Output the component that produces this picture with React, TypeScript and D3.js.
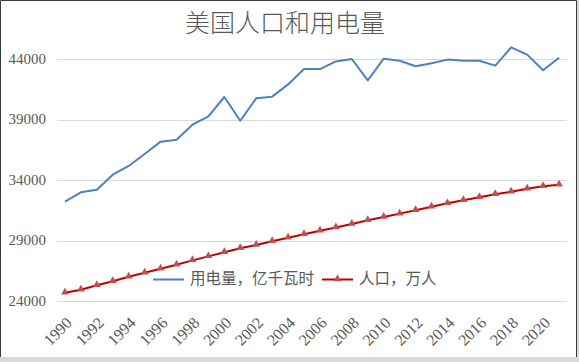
// Gráfica de líneas: población y consumo eléctrico de EE. UU.
import * as d3 from "d3";
import React, { useEffect, useRef } from "react";

// Datos
const years = [
  1990, 1991, 1992, 1993, 1994, 1995, 1996, 1997, 1998, 1999, 2000, 2001,
  2002, 2003, 2004, 2005, 2006, 2007, 2008, 2009, 2010, 2011, 2012, 2013,
  2014, 2015, 2016, 2017, 2018, 2019, 2020, 2021,
];

// 用电量，亿千瓦时
const electricity = [
  32210, 32980, 33200, 34440, 35160, 36150, 37170, 37330, 38570, 39260,
  40860, 38900, 40750, 40890, 41900, 43170, 43170, 43800, 44000, 42240,
  44030, 43860, 43400, 43650, 43950, 43860, 43860, 43450, 44960, 44360,
  43070, 44110,
];

// 人口，万人
const population = [
  24690, 24930, 25300, 25630, 26010, 26340, 26670, 27000, 27360, 27690,
  28030, 28360, 28630, 28930, 29230, 29510, 29810, 30080, 30360, 30670,
  30940, 31220, 31500, 31790, 32070, 32320, 32570, 32820, 33030, 33280,
  33480, 33610,
];

const yTicks = [24000, 29000, 34000, 39000, 44000];
const xLabels = years.filter((y) => y % 2 === 0);

const seriesNames = ["用电量，亿千瓦时", "人口，万人"];
const title = "美国人口和用电量";

function App() {
  const ref = useRef(null);

  const width = 579;
  const height = 362;
  const textColor = "#595959";
  const cjkFont = "'Noto Sans CJK SC', 'Noto Sans', sans-serif";
  const numFont = "'Liberation Serif', 'Times New Roman', serif";

  useEffect(() => {
    const svg = d3.select(ref.current);
    svg.selectAll("*").remove();

    // Fondo y marco
    svg
      .append("rect")
      .attr("width", width)
      .attr("height", height)
      .attr("fill", "#d9d9d9");
    svg
      .append("rect")
      .attr("x", 0)
      .attr("y", 0)
      .attr("width", 577)
      .attr("height", 357)
      .attr("fill", "#ffffff");
    svg
      .append("path")
      .attr("d", "M0.5,357 V0.5 H576.5 V357")
      .attr("fill", "none")
      .attr("stroke", "#3a3a3a")
      .attr("stroke-width", 1);

    const x = d3.scalePoint().domain(years).range([57, 567]).padding(0.5);
    const y = d3.scaleLinear().domain([24000, 44000]).range([301, 59]);

    // Líneas de la cuadrícula
    svg
      .append("g")
      .selectAll("line")
      .data(yTicks)
      .enter()
      .append("line")
      .attr("x1", 57)
      .attr("x2", 567)
      .attr("y1", (d) => Math.round(y(d)) + 0.5)
      .attr("y2", (d) => Math.round(y(d)) + 0.5)
      .attr("stroke", "#d9d9d9")
      .attr("stroke-width", 1);

    // Etiquetas del eje Y
    svg
      .append("g")
      .selectAll("text")
      .data(yTicks)
      .enter()
      .append("text")
      .attr("x", 46)
      .attr("y", (d) => y(d))
      .attr("dy", "0.33em")
      .attr("text-anchor", "end")
      .style("font-family", numFont)
      .style("font-size", "15px")
      .style("fill", textColor)
      .text((d) => d);

    // Etiquetas del eje X (giradas)
    svg
      .append("g")
      .selectAll("text")
      .data(xLabels)
      .enter()
      .append("text")
      .attr("transform", (d) => `translate(${x(d) + 4}, 320) rotate(-45)`)
      .attr("dy", "0.35em")
      .attr("text-anchor", "end")
      .style("font-family", numFont)
      .style("font-size", "16px")
      .style("fill", textColor)
      .text((d) => d);

    const line = d3
      .line()
      .x((d, i) => x(years[i]))
      .y((d) => y(d));

    // Serie de electricidad
    svg
      .append("path")
      .datum(electricity)
      .attr("d", line)
      .attr("fill", "none")
      .attr("stroke", "#4f81bd")
      .attr("stroke-width", 2)
      .attr("stroke-linejoin", "round");

    // Serie de población
    svg
      .append("path")
      .datum(population)
      .attr("d", line)
      .attr("fill", "none")
      .attr("stroke", "#c00000")
      .attr("stroke-width", 2);

    const triangle = d3.symbol().type(d3.symbolTriangle).size(26);

    svg
      .append("g")
      .selectAll("path")
      .data(population)
      .enter()
      .append("path")
      .attr("d", triangle)
      .attr("transform", (d, i) => `translate(${x(years[i])}, ${y(d) - 0.5})`)
      .attr("fill", "#c0504d");

    // Título
    svg
      .append("text")
      .attr("x", 285)
      .attr("y", 32)
      .attr("text-anchor", "middle")
      .style("font-family", cjkFont)
      .style("font-weight", 300)
      .style("font-size", "25px")
      .style("fill", textColor)
      .text(title);

    // Leyenda
    const legend = svg.append("g");
    legend
      .append("line")
      .attr("x1", 153)
      .attr("x2", 184)
      .attr("y1", 279.5)
      .attr("y2", 279.5)
      .attr("stroke", "#4f81bd")
      .attr("stroke-width", 2);
    legend
      .append("text")
      .attr("x", 190)
      .attr("y", 284)
      .style("font-family", cjkFont)
      .style("font-size", "15.5px")
      .style("fill", textColor)
      .text(seriesNames[0]);
    legend
      .append("line")
      .attr("x1", 322)
      .attr("x2", 353)
      .attr("y1", 279.5)
      .attr("y2", 279.5)
      .attr("stroke", "#c00000")
      .attr("stroke-width", 2);
    legend
      .append("path")
      .attr("d", triangle)
      .attr("transform", "translate(337.5, 279)")
      .attr("fill", "#c0504d");
    legend
      .append("text")
      .attr("x", 359)
      .attr("y", 284)
      .style("font-family", cjkFont)
      .style("font-size", "15.5px")
      .style("fill", textColor)
      .text(seriesNames[1]);
  }, []);

  return (
    <svg
      ref={ref}
      width={width}
      height={height}
      style={{ position: "absolute", left: 0, top: 0 }}
    />
  );
}

export default App;
